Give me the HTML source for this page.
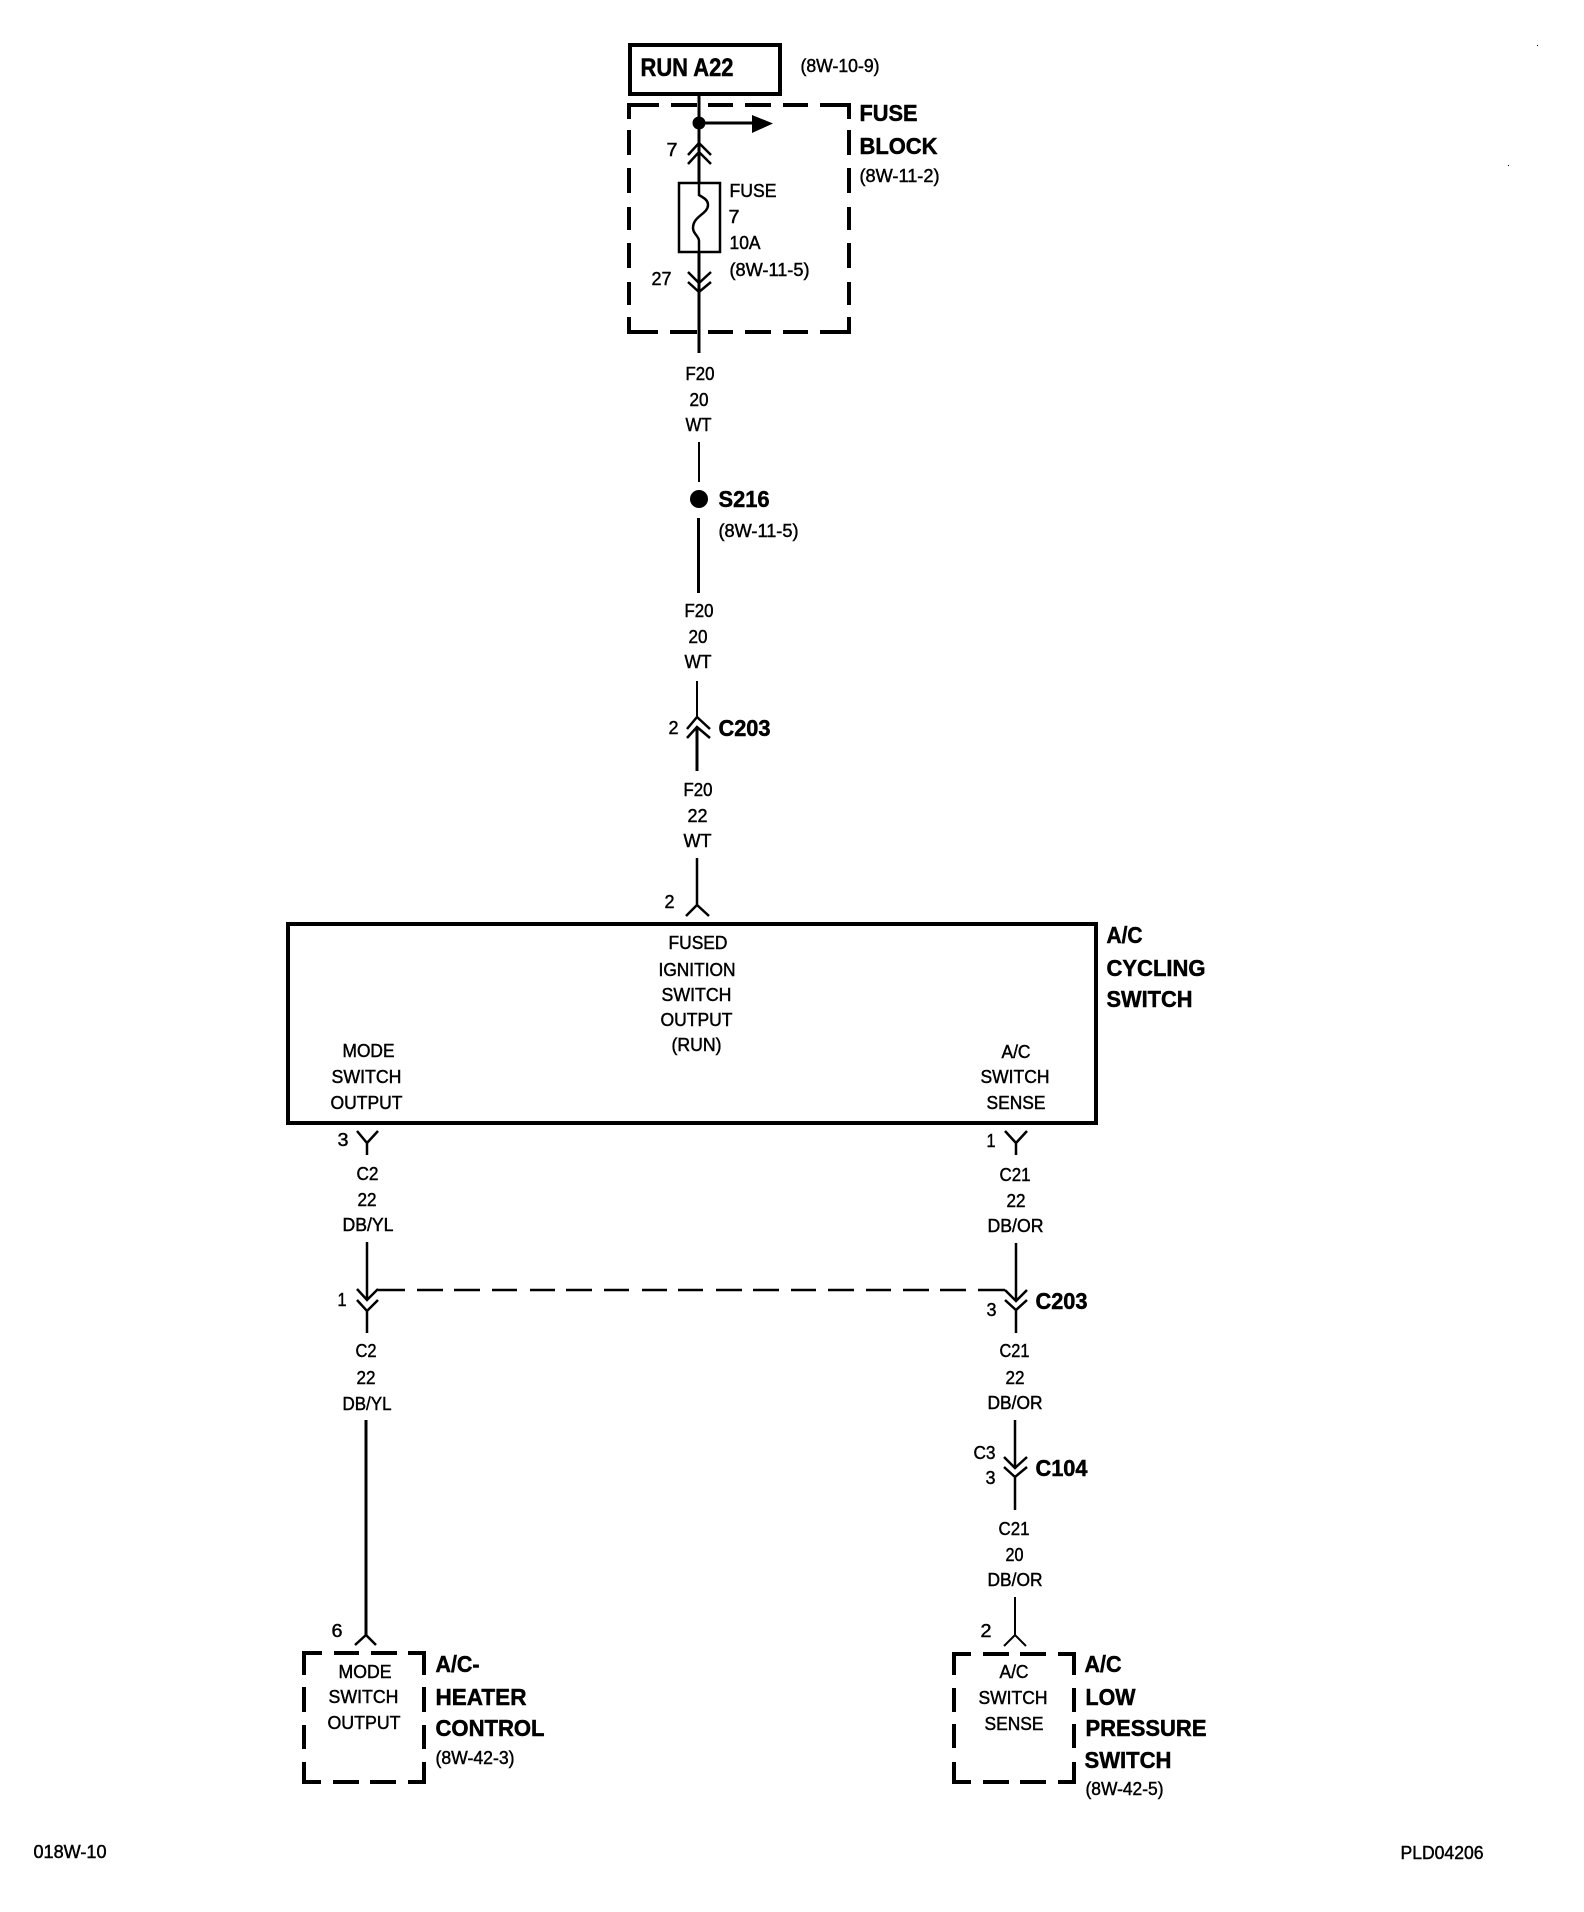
<!DOCTYPE html>
<html>
<head>
<meta charset="utf-8">
<style>
html,body{margin:0;padding:0;background:#fff}
svg{display:block}
text{font-family:"Liberation Sans",Arial,sans-serif;fill:#000}
.s{font-size:18px;stroke:#000;stroke-width:.45}
.b{font-size:23px;font-weight:bold;stroke:#000;stroke-width:.5}
</style>
</head>
<body>
<svg width="1584" height="1912" viewBox="0 0 1584 1912" xmlns="http://www.w3.org/2000/svg">
<rect width="1584" height="1912" fill="#fff"/>

<g fill="none" stroke="#000">
<!-- RUN A22 box -->
<rect x="630" y="45" width="150" height="49" stroke-width="4"/>

<!-- Fuse block dashed -->
<path stroke-width="4" d="M629 119V105H659M671 105H697M708 105H733M745 105H771M783 105H808M820 105H849V119
M629 130V155M629 168V193M629 207V230M629 243V268M629 282V305M629 317V332H658M670 332H697M708 332H733M745 332H771M783 332H808M820 332H849V317
M849 130V155M849 168V193M849 207V230M849 243V268M849 282V305"/>

<!-- Top wire -->
<path stroke-width="3" d="M699 96V183"/>
<path stroke-width="3" d="M699 123H754"/>
<path stroke-width="2.5" d="M688 155L699 143L711 155M688 164L699 152L711 164"/>
<rect x="679" y="183" width="41" height="69" stroke-width="2.5"/>
<path stroke-width="2.5" d="M699 183V195C704 198 708 200 708 205C708 214 693 216 693 228C693 234 699 236 699 241V252"/>
<path stroke-width="3" d="M699 252V353"/>
<path stroke-width="2.5" d="M688 272L699 283L711 272M688 282L699 292L711 282"/>

<!-- S216 wires -->
<path stroke-width="2" d="M699 442V482"/>
<path stroke-width="3" d="M698.5 518V593"/>

<!-- C203 top -->
<path stroke-width="2" d="M697 681V717"/>
<path stroke-width="2.5" d="M687 729L697 717L710 729M687 738L697 727L710 738"/>
<path stroke-width="3" d="M697 727V771"/>

<!-- to switch -->
<path stroke-width="2.5" d="M697 858V905M686 916L697 905L709 916"/>

<!-- A/C cycling switch -->
<rect x="288" y="924" width="808" height="199" stroke-width="4"/>

<!-- Left output -->
<path stroke-width="2.5" d="M357 1131L367 1143L378 1131M367 1143V1155"/>
<path stroke-width="2.5" d="M367 1242V1300M357 1289L367 1300L378 1289M357 1300L367 1311L378 1300M367 1311V1333"/>
<path stroke-width="3" d="M366 1420V1635"/>
<path stroke-width="2.5" d="M355 1645L366 1635L376 1645"/>

<!-- Right output -->
<path stroke-width="2.5" d="M1005 1131L1016 1143L1027 1131M1016 1143V1155"/>
<path stroke-width="2.5" d="M1016 1243V1301M1005 1290L1016 1301L1027 1290M1005 1300L1016 1310L1027 1300M1016 1310V1333"/>
<path stroke-width="2.5" d="M1015 1420V1468M1004 1457L1015 1468L1027 1457M1004 1467L1015 1477L1027 1467M1015 1477V1510"/>
<path stroke-width="2" d="M1015 1597V1635M1004 1646L1015 1635L1026 1646"/>

<!-- Dashed link -->
<path stroke-width="2.5" d="M378 1290H405M417 1290H443M454 1290H480M492 1290H517M530 1290H555M566 1290H592M604 1290H629M642 1290H667M678 1290H703M716 1290H742M753 1290H779M791 1290H816M828 1290H854M866 1290H891M903 1290H929M940 1290H966M978 1290H1005"/>

<!-- Bottom left dashed box -->
<path stroke-width="4" d="M304 1675V1653H322M334 1653H359M371 1653H397M408 1653H424V1675
M304 1687V1712M304 1725V1749M304 1762V1782H321M333 1782H359M370 1782H396M408 1782H424V1762
M424 1687V1712M424 1725V1749"/>

<!-- Bottom right dashed box -->
<path stroke-width="4" d="M954 1675V1654H971M983 1654H1009M1020 1654H1046M1058 1654H1074V1675
M954 1688V1712M954 1724V1748M954 1762V1782H971M983 1782H1009M1020 1782H1046M1058 1782H1074V1762
M1074 1688V1712M1074 1724V1748"/>
</g>

<g fill="#000">
<circle cx="699" cy="123" r="6.5"/>
<polygon points="752,115 773,123.5 752,133"/>
<circle cx="699" cy="499" r="9"/>
<rect x="1537" y="45" width="1" height="1"/>
<rect x="1508" y="165" width="1" height="1"/>
</g>

<!-- Labels -->
<g transform="translate(-0.5,-1)">
<text class="b" x="641" y="77" textLength="93" lengthAdjust="spacingAndGlyphs" style="font-size:25px">RUN A22</text>
<text class="s" x="801" y="73" textLength="79" lengthAdjust="spacingAndGlyphs">(8W-10-9)</text>
<text class="b" x="860" y="122" textLength="58" lengthAdjust="spacingAndGlyphs">FUSE</text>
<text class="b" x="860" y="155" textLength="78" lengthAdjust="spacingAndGlyphs">BLOCK</text>
<text class="s" x="860" y="183" textLength="80" lengthAdjust="spacingAndGlyphs">(8W-11-2)</text>
<text class="s" x="667" y="157" textLength="11" lengthAdjust="spacingAndGlyphs">7</text>
<text class="s" x="730" y="198" textLength="47" lengthAdjust="spacingAndGlyphs">FUSE</text>
<text class="s" x="729" y="224" textLength="11" lengthAdjust="spacingAndGlyphs">7</text>
<text class="s" x="730" y="250" textLength="31" lengthAdjust="spacingAndGlyphs">10A</text>
<text class="s" x="730" y="277" textLength="80" lengthAdjust="spacingAndGlyphs">(8W-11-5)</text>
<text class="s" x="652" y="286" textLength="20" lengthAdjust="spacingAndGlyphs">27</text>

<text class="s" x="686" y="381" textLength="29" lengthAdjust="spacingAndGlyphs">F20</text>
<text class="s" x="690" y="407" textLength="19" lengthAdjust="spacingAndGlyphs">20</text>
<text class="s" x="686" y="432" textLength="26" lengthAdjust="spacingAndGlyphs">WT</text>
<text class="b" x="719" y="508" textLength="51" lengthAdjust="spacingAndGlyphs">S216</text>
<text class="s" x="719" y="538" textLength="80" lengthAdjust="spacingAndGlyphs">(8W-11-5)</text>
<text class="s" x="685" y="618" textLength="29" lengthAdjust="spacingAndGlyphs">F20</text>
<text class="s" x="689" y="644" textLength="19" lengthAdjust="spacingAndGlyphs">20</text>
<text class="s" x="685" y="669" textLength="27" lengthAdjust="spacingAndGlyphs">WT</text>
<text class="s" x="669" y="735" textLength="10" lengthAdjust="spacingAndGlyphs">2</text>
<text class="b" x="719" y="737" textLength="52" lengthAdjust="spacingAndGlyphs">C203</text>
<text class="s" x="684" y="797" textLength="29" lengthAdjust="spacingAndGlyphs">F20</text>
<text class="s" x="688" y="823" textLength="20" lengthAdjust="spacingAndGlyphs">22</text>
<text class="s" x="684" y="848" textLength="28" lengthAdjust="spacingAndGlyphs">WT</text>
<text class="s" x="665" y="909" textLength="10" lengthAdjust="spacingAndGlyphs">2</text>

<text class="s" x="669" y="950" textLength="59" lengthAdjust="spacingAndGlyphs">FUSED</text>
<text class="s" x="659" y="977" textLength="77" lengthAdjust="spacingAndGlyphs">IGNITION</text>
<text class="s" x="662" y="1002" textLength="70" lengthAdjust="spacingAndGlyphs">SWITCH</text>
<text class="s" x="661" y="1027" textLength="72" lengthAdjust="spacingAndGlyphs">OUTPUT</text>
<text class="s" x="672" y="1052" textLength="50" lengthAdjust="spacingAndGlyphs">(RUN)</text>
<text class="s" x="343" y="1058" textLength="52" lengthAdjust="spacingAndGlyphs">MODE</text>
<text class="s" x="332" y="1084" textLength="70" lengthAdjust="spacingAndGlyphs">SWITCH</text>
<text class="s" x="331" y="1110" textLength="72" lengthAdjust="spacingAndGlyphs">OUTPUT</text>
<text class="s" x="1002" y="1059" textLength="29" lengthAdjust="spacingAndGlyphs">A/C</text>
<text class="s" x="981" y="1084" textLength="69" lengthAdjust="spacingAndGlyphs">SWITCH</text>
<text class="s" x="987" y="1110" textLength="59" lengthAdjust="spacingAndGlyphs">SENSE</text>
<text class="b" x="1107" y="944" textLength="36" lengthAdjust="spacingAndGlyphs">A/C</text>
<text class="b" x="1107" y="977" textLength="99" lengthAdjust="spacingAndGlyphs">CYCLING</text>
<text class="b" x="1107" y="1008" textLength="86" lengthAdjust="spacingAndGlyphs">SWITCH</text>

<text class="s" x="338" y="1147" textLength="11" lengthAdjust="spacingAndGlyphs">3</text>
<text class="s" x="357" y="1181" textLength="22" lengthAdjust="spacingAndGlyphs">C2</text>
<text class="s" x="358" y="1207" textLength="19" lengthAdjust="spacingAndGlyphs">22</text>
<text class="s" x="343" y="1232" textLength="51" lengthAdjust="spacingAndGlyphs">DB/YL</text>
<text class="s" x="338" y="1307" textLength="9" lengthAdjust="spacingAndGlyphs">1</text>
<text class="s" x="356" y="1358" textLength="21" lengthAdjust="spacingAndGlyphs">C2</text>
<text class="s" x="357" y="1385" textLength="19" lengthAdjust="spacingAndGlyphs">22</text>
<text class="s" x="343" y="1411" textLength="49" lengthAdjust="spacingAndGlyphs">DB/YL</text>
<text class="s" x="332" y="1638" textLength="11" lengthAdjust="spacingAndGlyphs">6</text>
<text class="s" x="339" y="1679" textLength="53" lengthAdjust="spacingAndGlyphs">MODE</text>
<text class="s" x="329" y="1704" textLength="70" lengthAdjust="spacingAndGlyphs">SWITCH</text>
<text class="s" x="328" y="1730" textLength="73" lengthAdjust="spacingAndGlyphs">OUTPUT</text>
<text class="b" x="436" y="1673" textLength="44" lengthAdjust="spacingAndGlyphs">A/C-</text>
<text class="b" x="436" y="1706" textLength="91" lengthAdjust="spacingAndGlyphs">HEATER</text>
<text class="b" x="436" y="1737" textLength="109" lengthAdjust="spacingAndGlyphs">CONTROL</text>
<text class="s" x="436" y="1765" textLength="79" lengthAdjust="spacingAndGlyphs">(8W-42-3)</text>

<text class="s" x="987" y="1148" textLength="9" lengthAdjust="spacingAndGlyphs">1</text>
<text class="s" x="1000" y="1182" textLength="31" lengthAdjust="spacingAndGlyphs">C21</text>
<text class="s" x="1007" y="1208" textLength="19" lengthAdjust="spacingAndGlyphs">22</text>
<text class="s" x="988" y="1233" textLength="56" lengthAdjust="spacingAndGlyphs">DB/OR</text>
<text class="s" x="987" y="1317" textLength="10" lengthAdjust="spacingAndGlyphs">3</text>
<text class="b" x="1036" y="1310" textLength="52" lengthAdjust="spacingAndGlyphs">C203</text>
<text class="s" x="1000" y="1358" textLength="30" lengthAdjust="spacingAndGlyphs">C21</text>
<text class="s" x="1006" y="1385" textLength="19" lengthAdjust="spacingAndGlyphs">22</text>
<text class="s" x="988" y="1410" textLength="55" lengthAdjust="spacingAndGlyphs">DB/OR</text>
<text class="s" x="974" y="1460" textLength="22" lengthAdjust="spacingAndGlyphs">C3</text>
<text class="s" x="986" y="1485" textLength="10" lengthAdjust="spacingAndGlyphs">3</text>
<text class="b" x="1036" y="1477" textLength="52" lengthAdjust="spacingAndGlyphs">C104</text>
<text class="s" x="999" y="1536" textLength="31" lengthAdjust="spacingAndGlyphs">C21</text>
<text class="s" x="1006" y="1562" textLength="18" lengthAdjust="spacingAndGlyphs">20</text>
<text class="s" x="988" y="1587" textLength="55" lengthAdjust="spacingAndGlyphs">DB/OR</text>
<text class="s" x="981" y="1638" textLength="11" lengthAdjust="spacingAndGlyphs">2</text>
<text class="s" x="1000" y="1679" textLength="29" lengthAdjust="spacingAndGlyphs">A/C</text>
<text class="s" x="979" y="1705" textLength="69" lengthAdjust="spacingAndGlyphs">SWITCH</text>
<text class="s" x="985" y="1731" textLength="59" lengthAdjust="spacingAndGlyphs">SENSE</text>
<text class="b" x="1085" y="1673" textLength="37" lengthAdjust="spacingAndGlyphs">A/C</text>
<text class="b" x="1086" y="1706" textLength="50" lengthAdjust="spacingAndGlyphs">LOW</text>
<text class="b" x="1086" y="1737" textLength="121" lengthAdjust="spacingAndGlyphs">PRESSURE</text>
<text class="b" x="1085" y="1769" textLength="87" lengthAdjust="spacingAndGlyphs">SWITCH</text>
<text class="s" x="1086" y="1796" textLength="78" lengthAdjust="spacingAndGlyphs">(8W-42-5)</text>

<text class="s" x="34" y="1859" textLength="73" lengthAdjust="spacingAndGlyphs">018W-10</text>
<text class="s" x="1401" y="1860" textLength="83" lengthAdjust="spacingAndGlyphs">PLD04206</text>
</g>
</svg>
</body>
</html>
